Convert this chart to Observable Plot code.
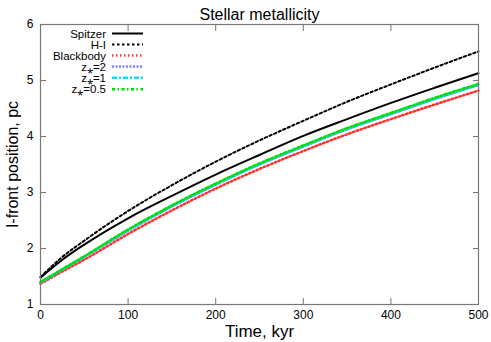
<!DOCTYPE html>
<html>
<head>
<meta charset="utf-8">
<script src="https://cdn.jsdelivr.net/npm/d3@7"></script>
<script src="https://cdn.jsdelivr.net/npm/@observablehq/plot@0.6"></script>
<style>
  html, body { margin: 0; padding: 0; background: #fff; }
  #chart { position: relative; width: 491px; height: 342px; }
  svg { font-family: "Liberation Sans", Arial, Helvetica, sans-serif; }
</style>
</head>
<body>
<div id="chart"></div>
<script>
const times      = [0, 25, 50, 100, 150, 200, 250, 300, 350, 400, 450, 500];
const spitzer    = [1.48, 1.80, 2.07, 2.54, 2.94, 3.32, 3.67, 4.01, 4.31, 4.60, 4.87, 5.13];
const hI         = [1.49, 1.85, 2.14, 2.67, 3.13, 3.55, 3.93, 4.28, 4.62, 4.93, 5.23, 5.52];
const blackbody  = [1.37, 1.59, 1.80, 2.26, 2.68, 3.07, 3.42, 3.74, 4.04, 4.31, 4.57, 4.82];
const z2         = [1.39, 1.62, 1.85, 2.32, 2.75, 3.14, 3.50, 3.82, 4.13, 4.40, 4.67, 4.92];
const z1         = [1.40, 1.63, 1.86, 2.33, 2.76, 3.15, 3.51, 3.83, 4.14, 4.41, 4.68, 4.93];
const z05        = [1.40, 1.63, 1.86, 2.34, 2.77, 3.16, 3.52, 3.84, 4.15, 4.42, 4.69, 4.94];
const xTicks = [0, 100, 200, 300, 400, 500];
const yTicks = [1, 2, 3, 4, 5, 6];

const seriesNames = ["Spitzer", "H-I", "Blackbody", "z\u204E=2", "z\u204E=1", "z\u204E=0.5"];
const seriesVals  = [spitzer, hI, blackbody, z2, z1, z05];
const styles = [
  {stroke: "#000000", strokeWidth: 2,   dash: null},
  {stroke: "#000000", strokeWidth: 2,   dash: "2.5,2.5"},
  {stroke: "#ff3030", strokeWidth: 2.5, dash: "1.5,2.5"},
  {stroke: "#8080ff", strokeWidth: 2.5, dash: "2,1.5"},
  {stroke: "#00e5ff", strokeWidth: 2.5, dash: "5,2,2,2"},
  {stroke: "#00e000", strokeWidth: 2.5, dash: "3,2.5,1.5,2.5"}
];

const lineMarks = seriesNames.map((name, i) => {
  const rows = times.map((t, j) => ({t, v: seriesVals[i][j]}));
  return Plot.line(rows, {
    x: "t", y: "v", curve: "monotone-x",
    stroke: styles[i].stroke, strokeWidth: styles[i].strokeWidth,
    strokeDasharray: styles[i].dash
  });
});

const tickColor = "#777";
const chart = Plot.plot({
  width: 491, height: 342,
  marginLeft: 40, marginRight: 13, marginTop: 24, marginBottom: 38,
  style: {fontFamily: "Liberation Sans, Arial, sans-serif", fontSize: "12px", color: "#000", background: "#fff"},
  x: {domain: [0, 500]},
  y: {domain: [1, 6]},
  marks: [
    ...lineMarks,
    Plot.frame({stroke: tickColor, strokeWidth: 1.2}),
    Plot.axisX(xTicks, {anchor: "bottom", tickSize: -6, stroke: tickColor, tickFormat: () => "", label: null}),
    Plot.axisX(xTicks, {anchor: "top", tickSize: -6, stroke: tickColor, tickFormat: () => "", label: null}),
    Plot.axisY(yTicks, {anchor: "left", tickSize: -6, stroke: tickColor, tickFormat: () => "", label: null}),
    Plot.axisY(yTicks, {anchor: "right", tickSize: -6, stroke: tickColor, tickFormat: () => "", label: null}),
    Plot.axisX(xTicks, {anchor: "bottom", tickSize: 0, tickPadding: 6, fontSize: 12, tickFormat: d3.format("d"),
      label: "Time, kyr", labelAnchor: "center", labelArrow: "none", labelOffset: 32}),
    Plot.axisY(yTicks, {anchor: "left", tickSize: 0, tickPadding: 7, fontSize: 12, tickFormat: d3.format("d"),
      label: "I-front position, pc", labelAnchor: "center", labelArrow: "none", labelOffset: 34}),
    Plot.text(["Stellar metallicity"], {frameAnchor: "top", dy: -16, fontSize: 16, text: d => d})
  ]
});
document.getElementById("chart").appendChild(chart);

// enlarge axis label fonts
d3.select(chart).selectAll("g[aria-label='x-axis label'] text")
  .style("font-size", "17px");
d3.select(chart).selectAll("g[aria-label='y-axis label'] text")
  .style("font-size", "16px");

// legend
const lg = d3.select(chart).append("g").attr("class", "legend");
const rowY = [33.5, 44.5, 55.5, 66.5, 77.8, 89.2];
seriesNames.forEach((name, i) => {
  lg.append("text")
    .attr("x", 106).attr("y", rowY[i]).attr("dy", "0.35em")
    .attr("text-anchor", "end").style("font-size", "11.5px")
    .text(name);
  lg.append("line")
    .attr("x1", 112).attr("x2", 143).attr("y1", rowY[i]).attr("y2", rowY[i])
    .attr("stroke", styles[i].stroke).attr("stroke-width", styles[i].strokeWidth)
    .attr("stroke-dasharray", styles[i].dash);
});
</script>
</body>
</html>
